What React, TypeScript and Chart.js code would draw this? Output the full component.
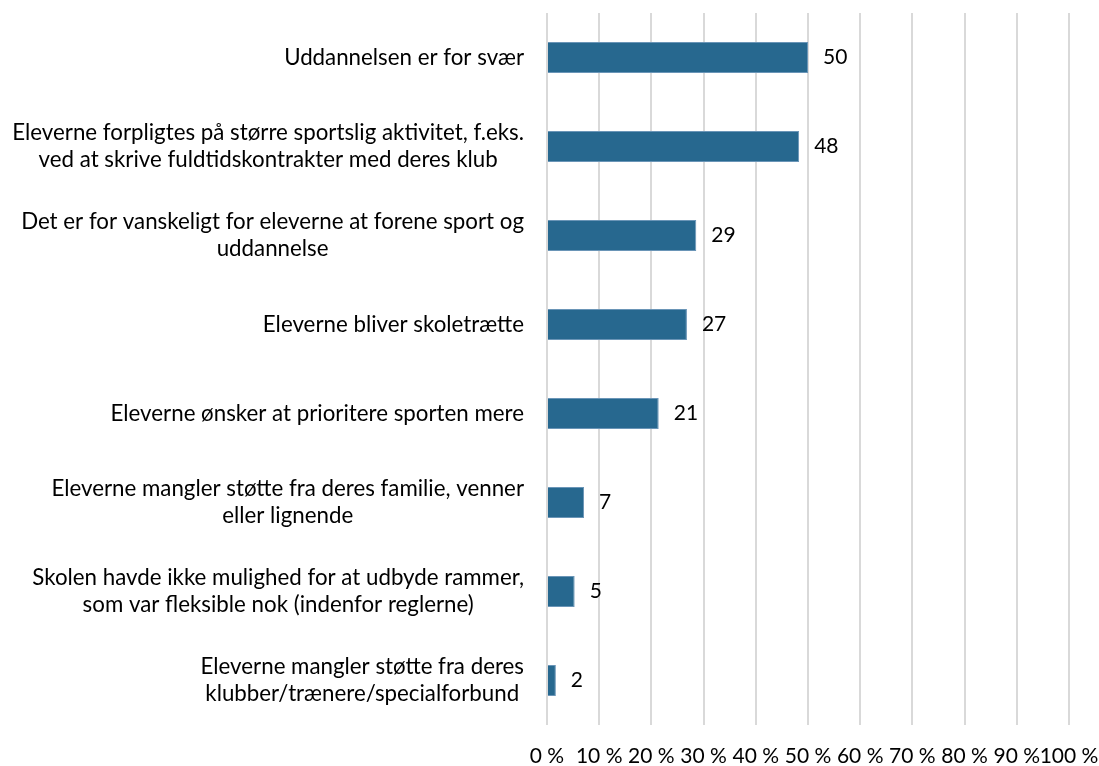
import React, { useEffect, useRef } from "react";
import { Chart, registerables } from "chart.js";

Chart.register(...registerables);

const categories: string[][] = [
  ["Uddannelsen er for svær"],
  ["Eleverne forpligtes på større sportslig aktivitet, f.eks.", "ved at skrive fuldtidskontrakter med deres klub"],
  ["Det er for vanskeligt for eleverne at forene sport og", "uddannelse"],
  ["Eleverne bliver skoletrætte"],
  ["Eleverne ønsker at prioritere sporten mere"],
  ["Eleverne mangler støtte fra deres familie, venner", "eller lignende"],
  ["Skolen havde ikke mulighed for at udbyde rammer,", "som var fleksible nok (indenfor reglerne)"],
  ["Eleverne mangler støtte fra deres", "klubber/trænere/specialforbund"],
];

const values: number[] = [50.0, 48.3, 28.6, 26.8, 21.4, 7.1, 5.3, 1.7];

const xMin = 0;
const xMax = 100;
const xStep = 10;
const tickSuffix = " %";

const FONT = "Lato, 'Open Sans', sans-serif";
const CAT_SIZE = 22.3;
const NUM_SIZE = 21;

const labelsPlugin = {
  id: "customLabels",
  afterDatasetsDraw(chart: any) {
    const { ctx } = chart;
    const xs = chart.scales.x;
    const ys = chart.scales.y;
    ctx.save();
    ctx.fillStyle = "#000000";
    ctx.textBaseline = "middle";
    ctx.font = `${CAT_SIZE}px ${FONT}`;
    const rightEdge = chart.chartArea.left - 23;
    const lh = 27;
    categories.forEach((lines, i) => {
      const y = ys.getPixelForValue(i);
      let w = 0;
      lines.forEach((l) => {
        w = Math.max(w, ctx.measureText(l).width);
      });
      const cx = rightEdge - w / 2;
      ctx.textAlign = "center";
      lines.forEach((l, j) => {
        ctx.fillText(l, cx, y + (j - (lines.length - 1) / 2) * lh);
      });
    });
    ctx.font = `${NUM_SIZE}px ${FONT}`;
    ctx.textAlign = "left";
    values.forEach((v, i) => {
      const y = ys.getPixelForValue(i);
      const x = xs.getPixelForValue(v) + 15;
      ctx.fillText(String(Math.round(v)), x, y);
    });
    ctx.restore();
  },
};

export default function App() {
  const ref = useRef<HTMLCanvasElement | null>(null);
  useEffect(() => {
    document.body.style.margin = "0";
    if (!ref.current) return;
    const chart = new Chart(ref.current, {
      type: "bar",
      data: {
        labels: categories.map((c) => c.join(" ")),
        datasets: [
          {
            data: values,
            backgroundColor: "#27688f",
            borderColor: "#6a95b7",
            borderWidth: 1,
            barPercentage: 0.35,
            categoryPercentage: 1,
          },
        ],
      },
      options: {
        indexAxis: "y",
        responsive: false,
        animation: false,
        maintainAspectRatio: false,
        layout: { padding: { left: 547, right: 30, top: 13, bottom: 0 } },
        plugins: { legend: { display: false }, tooltip: { enabled: false } },
        scales: {
          x: {
            min: xMin,
            max: xMax,
            border: { display: false },
            grid: { color: "#d9d9d9", lineWidth: 2, drawTicks: false },
            ticks: {
              stepSize: xStep,
              padding: 21,
              color: "#000000",
              font: { family: FONT, size: NUM_SIZE, lineHeight: 1 },
              callback: (v: any) => `${v}${tickSuffix}`,
              maxRotation: 0,
              autoSkip: false,
            },
            afterFit: (s: any) => {
              s.height = 41;
              s.paddingLeft = 0;
              s.paddingRight = 0;
            },
          },
          y: {
            border: { display: false },
            grid: { display: false, drawTicks: false },
            ticks: { display: false },
            afterFit: (s: any) => {
              s.width = 0;
            },
          },
        },
      },
      plugins: [labelsPlugin],
    });
    return () => chart.destroy();
  }, []);
  return <canvas ref={ref} width={1099} height={766} style={{ display: "block" }} />;
}
